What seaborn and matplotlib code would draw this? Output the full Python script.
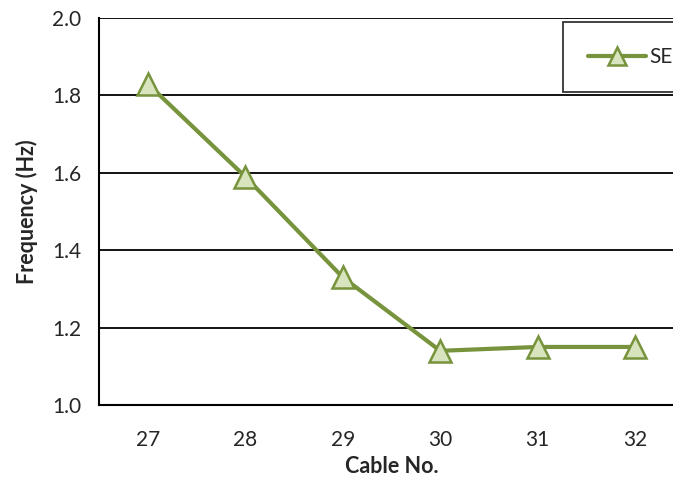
import numpy as np
import pandas as pd
import seaborn as sns
import matplotlib.pyplot as plt

# cable numbers and the SE frequencies
cables = [27, 28, 29, 30, 31, 32]
freq_se = [1.83, 1.59, 1.33, 1.14, 1.15, 1.15]
y_ticks = [1.0, 1.2, 1.4, 1.6, 1.8, 2.0]

sns.set_style('white')
plt.rcParams['font.family'] = ['Lato', 'DejaVu Sans']

df = pd.DataFrame({'Cable No.': cables, 'Frequency (Hz)': freq_se, 'series': 'SE'})

fig = plt.figure(figsize=(6.73, 4.78), dpi=100)
ax = fig.add_axes([99 / 673, 73 / 478, 585 / 673, 387 / 478])

sns.lineplot(data=df, x='Cable No.', y='Frequency (Hz)', hue='series',
             palette=['#77933C'], marker='^', markersize=16, linewidth=3,
             markerfacecolor='#D7E4BD', markeredgecolor='#77933C',
             markeredgewidth=1.8, ax=ax, zorder=3)

ax.set_xlim(cables[0] - 0.5, cables[-1] + 0.5)
ax.set_ylim(y_ticks[0], y_ticks[-1])
ax.set_yticks(y_ticks)
ax.set_yticklabels([f'{v:.1f}' for v in y_ticks])

# tick marks on category boundaries, labels in the middle
ax.set_xticks(np.arange(cables[0] - 0.5, cables[-1] + 1, 1.0))
ax.set_xticklabels([])
ax.set_xticks(cables, minor=True)
ax.set_xticklabels([str(c) for c in cables], minor=True)
ax.tick_params(axis='x', which='major', length=8, width=1.3, color='black', direction='out')
ax.tick_params(axis='x', which='minor', length=0, labelsize=15, pad=18)
ax.tick_params(axis='y', length=8, width=1.3, color='black', direction='out', labelsize=15, pad=5)

ax.grid(axis='y', color='black', linewidth=1.3)
ax.set_axisbelow(True)
for s in ['top', 'right']:
    ax.spines[s].set_visible(False)
for s in ['left', 'bottom']:
    ax.spines[s].set_color('black')
    ax.spines[s].set_linewidth(1.5)

ax.set_xlabel('Cable No.', fontsize=15.5, fontweight='bold', labelpad=4)
ax.set_ylabel('Frequency (Hz)', fontsize=15.5, fontweight='bold', labelpad=10)

leg = ax.legend(loc='upper left', bbox_to_anchor=(0.793, 0.99), frameon=True,
                fancybox=False, edgecolor='black', fontsize=15,
                borderpad=1.2, handlelength=2.8, handletextpad=0.15, borderaxespad=0,
                markerscale=0.8)
leg.get_frame().set_linewidth(1.3)
# the legend box runs off the right edge in the original
fig.canvas.draw()
fr = leg.get_frame()
fr.set_width(fr.get_width() + 25)

fig.savefig('out.png', dpi=100)
